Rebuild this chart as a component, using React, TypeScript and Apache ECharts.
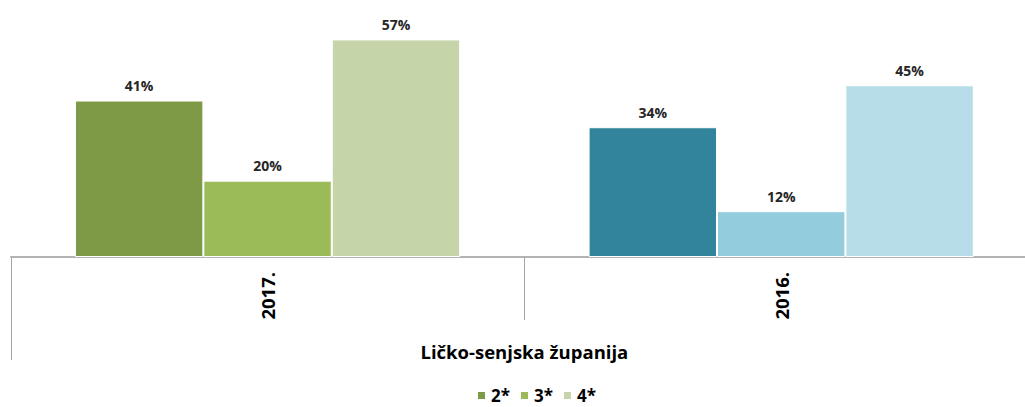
import React, { useEffect, useRef } from "react";
import * as echarts from "echarts";

const years = ["2017.", "2016."];
const outerCategory = ["Ličko-senjska županija"];
const seriesNames = ["2*", "3*", "4*"];
const values2 = [41, 34];
const values3 = [20, 12];
const values4 = [57, 45];
const greenColors = ["#7E9A47", "#9BBB59", "#C6D5A9"];
const blueColors = ["#31849B", "#93CDDD", "#B7DEE8"];

const FONT = "'Open Sans', 'Noto Sans', sans-serif";

export default function App() {
  const ref = useRef<HTMLDivElement>(null);
  useEffect(() => {
    if (!ref.current) return;
    document.documentElement.style.overflow = "hidden";
    document.body.style.margin = "0";
    document.body.style.overflow = "hidden";
    const chart = echarts.init(ref.current, null, { renderer: "svg" });
    const allValues = [values2, values3, values4];
    const series = seriesNames.map((name, si) => ({
      name,
      type: "bar",
      xAxisIndex: 0,
      yAxisIndex: 0,
      barGap: "0%",
      barCategoryGap: "25%",
      itemStyle: { color: greenColors[si], borderColor: "#ffffff", borderWidth: 1 },
      label: {
        show: true,
        position: "top",
        distance: 8,
        formatter: "{c}%",
        fontFamily: FONT,
        fontWeight: "bold",
        fontSize: 14,
        color: "#262626",
      },
      data: allValues[si].map((v, ci) => ({
        value: v,
        itemStyle: { color: ci === 0 ? greenColors[si] : blueColors[si] },
      })),
    }));
    chart.setOption({
      animation: false,
      textStyle: { fontFamily: FONT },
      grid: {
        left: 10.75,
        top: 28,
        right: -13,
        bottom: 150,
        containLabel: false,
        outerBoundsMode: "none",
      },
      yAxis: { type: "value", min: 0, max: 60, show: false },
      xAxis: [
        {
          type: "category",
          data: years,
          position: "bottom",
          axisLine: { show: true, lineStyle: { color: "#9A9A9A", width: 1.5 } },
          axisTick: { show: true, length: 63, lineStyle: { color: "#A6A6A6", width: 1 } },
          axisLabel: {
            rotate: 90,
            margin: 15,
            fontFamily: FONT,
            fontWeight: "bold",
            fontSize: 18.5,
            color: "#000000",
          },
        },
        {
          type: "category",
          data: outerCategory,
          position: "bottom",
          axisLine: { show: false },
          axisTick: { show: true, length: 103, lineStyle: { color: "#A6A6A6", width: 1 } },
          axisLabel: {
            margin: 85,
            fontFamily: FONT,
            fontWeight: "bold",
            fontSize: 18.5,
            color: "#000000",
          },
        },
      ],
      legend: {
        data: seriesNames,
        top: 387,
        left: 476,
        padding: 0,
        icon: "rect",
        itemWidth: 9,
        itemHeight: 9,
        itemGap: 9,
        textStyle: { fontFamily: FONT, fontWeight: "bold", fontSize: 17, color: "#000000" },
      },
      series,
    });
    return () => chart.dispose();
  }, []);
  return (
    <div
      ref={ref}
      style={{ position: "absolute", left: 0, top: 0, width: 1025, height: 407, overflow: "hidden" }}
    />
  );
}
